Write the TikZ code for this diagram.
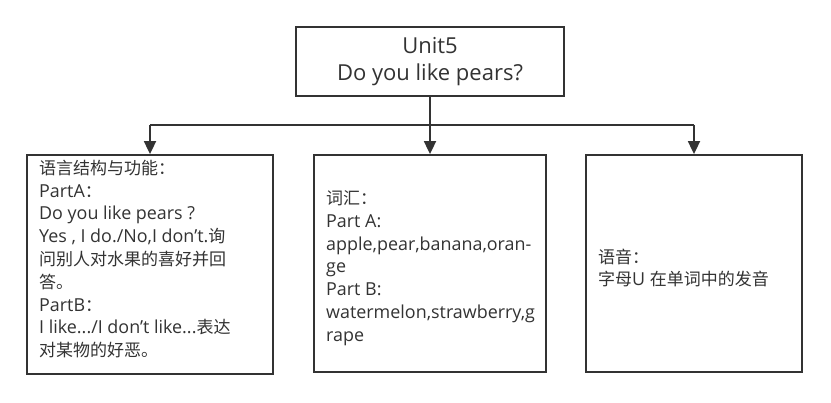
\documentclass[tikz,border=0pt]{standalone}
\usepackage{fontspec}
\setmainfont{Open Sans}
\newfontfamily\cjk{Noto Sans CJK SC}[Scale=0.95]
\newcommand\ap{\char"27\relax}
\usetikzlibrary{arrows.meta}
\definecolor{ln}{HTML}{333333}
\definecolor{tx}{HTML}{333333}
\begin{document}
\begin{tikzpicture}[x=1pt,y=-1pt,
 box/.style={draw=ln, line width=1.8pt, rectangle, inner sep=0pt},
 body/.style={font=\fontsize{17.9}{22.8}\selectfont, align=left, text=tx, anchor=west, inner sep=0pt},
 conn/.style={draw=ln, line width=1.8pt},
 arr/.style={conn, -{Triangle[width=12pt,length=13pt]}}]
\path[use as bounding box, fill=white] (0,0) rectangle (831,403);
\node[box, minimum width=268pt, minimum height=69pt, align=center, text=tx,
      font=\fontsize{22}{27}\selectfont] (top) at (430,61.5) {Unit5\\Do you like pears?};
\node[box, minimum width=246pt, minimum height=219pt] (b1) at (150,264.5) {};
\node[box, minimum width=232pt, minimum height=217pt] (b2) at (430,263.5) {};
\node[box, minimum width=216pt, minimum height=217pt] (b3) at (694,263.5) {};
\node[body] (t1) at (39,259)
 {{\cjk 语言结构与功能：}\\PartA{\cjk ：}\\Do you like pears ?\\Yes , I do./No,I don\ap t.{\cjk 询}\\{\cjk 问别人对水果的喜好并回}\\{\cjk 答。}\\PartB{\cjk ：}\\I like.../I don\ap t like...{\cjk 表达}\\{\cjk 对某物的好恶。}};
\node[body] (t2) at (326,268)
 {{\cjk 词汇：}\\Part A:\\apple,pear,banana,oran-\\ge\\Part B:\\watermelon,strawberry,g\\rape};
\node[body] (t3) at (598,268)
 {{\cjk 语音：}\\{\cjk 字母}U {\cjk 在单词中的发音}};
\coordinate (j) at (430,125);
\coordinate (j1) at (b1.north |- j);
\coordinate (j3) at (b3.north |- j);
\draw[conn] (top.south) -- (j);
\draw[conn] (j1) -- (j3);
\draw[arr] (j1) -- (b1.north);
\draw[arr] (j) -- (b2.north);
\draw[arr] (j3) -- (b3.north);
\end{tikzpicture}
\end{document}
